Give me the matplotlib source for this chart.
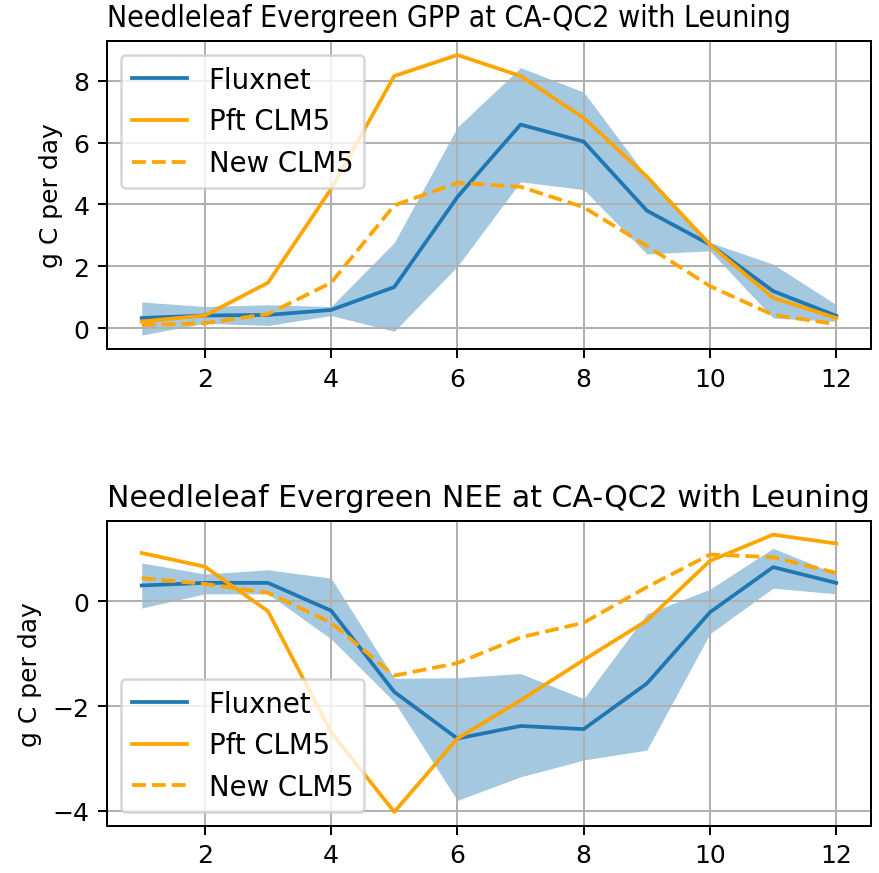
import numpy as np
import matplotlib
matplotlib.use("Agg")
import matplotlib.pyplot as plt
from matplotlib.ticker import MultipleLocator

months = np.arange(1, 13)

# GPP (g C per day)
gpp_flux = [0.33, 0.41, 0.43, 0.59, 1.33, 4.24, 6.58, 6.03, 3.80, 2.70, 1.20, 0.40]
gpp_flux_hi = [0.85, 0.70, 0.76, 0.70, 2.77, 6.50, 8.42, 7.63, 4.90, 2.77, 2.07, 0.76]
gpp_flux_lo = [-0.22, 0.16, 0.09, 0.41, -0.10, 2.00, 4.73, 4.48, 2.40, 2.50, 0.33, 0.22]
gpp_pft = [0.22, 0.41, 1.47, 4.50, 8.15, 8.83, 8.15, 6.80, 4.90, 2.70, 0.98, 0.33]
gpp_new = [0.11, 0.16, 0.46, 1.47, 3.97, 4.70, 4.57, 3.91, 2.66, 1.36, 0.43, 0.13]

# NEE (g C per day)
nee_flux = [0.30, 0.35, 0.35, -0.18, -1.73, -2.62, -2.38, -2.44, -1.57, -0.21, 0.65, 0.35]
nee_flux_hi = [0.73, 0.52, 0.60, 0.44, -1.47, -1.46, -1.38, -1.86, -0.24, 0.23, 1.01, 0.52]
nee_flux_lo = [-0.13, 0.14, 0.14, -0.72, -1.92, -3.80, -3.35, -3.03, -2.84, -0.62, 0.25, 0.14]
nee_pft = [0.92, 0.66, -0.19, -2.50, -4.02, -2.62, -1.89, -1.12, -0.37, 0.77, 1.27, 1.10]
nee_new = [0.44, 0.33, 0.16, -0.41, -1.42, -1.18, -0.69, -0.41, 0.27, 0.89, 0.84, 0.54]

fig = plt.figure(figsize=(879 / 180, 874 / 180), dpi=180)
ax1 = fig.add_axes([0.1217, 0.5995, 0.9909 - 0.1217, 0.952 - 0.5995])
ax2 = fig.add_axes([0.1217, 0.054, 0.9909 - 0.1217, 0.403 - 0.054])

panels = [
    (ax1, "GPP", gpp_flux, gpp_flux_lo, gpp_flux_hi, gpp_pft, gpp_new, "upper left", "condensed"),
    (ax2, "NEE", nee_flux, nee_flux_lo, nee_flux_hi, nee_pft, nee_new, "lower left", "normal"),
]

for ax, var, flux, lo, hi, pft, new, loc, stretch in panels:
    ax.fill_between(months, lo, hi, color="C0", alpha=0.4, linewidth=0)
    ax.plot(months, flux, color="C0", label="Fluxnet")
    ax.plot(months, pft, color="orange", label="Pft CLM5")
    ax.plot(months, new, color="orange", linestyle="--", label="New CLM5")
    ax.set_title(f"Needleleaf Evergreen {var} at CA-QC2 with Leuning",
                 loc="left", fontstretch=stretch)
    ax.set_ylabel("g C per day")
    ax.yaxis.set_major_locator(MultipleLocator(2))
    ax.legend(loc=loc, fontsize=11)
    ax.grid(True)

fig.savefig("out.png", dpi=180)
